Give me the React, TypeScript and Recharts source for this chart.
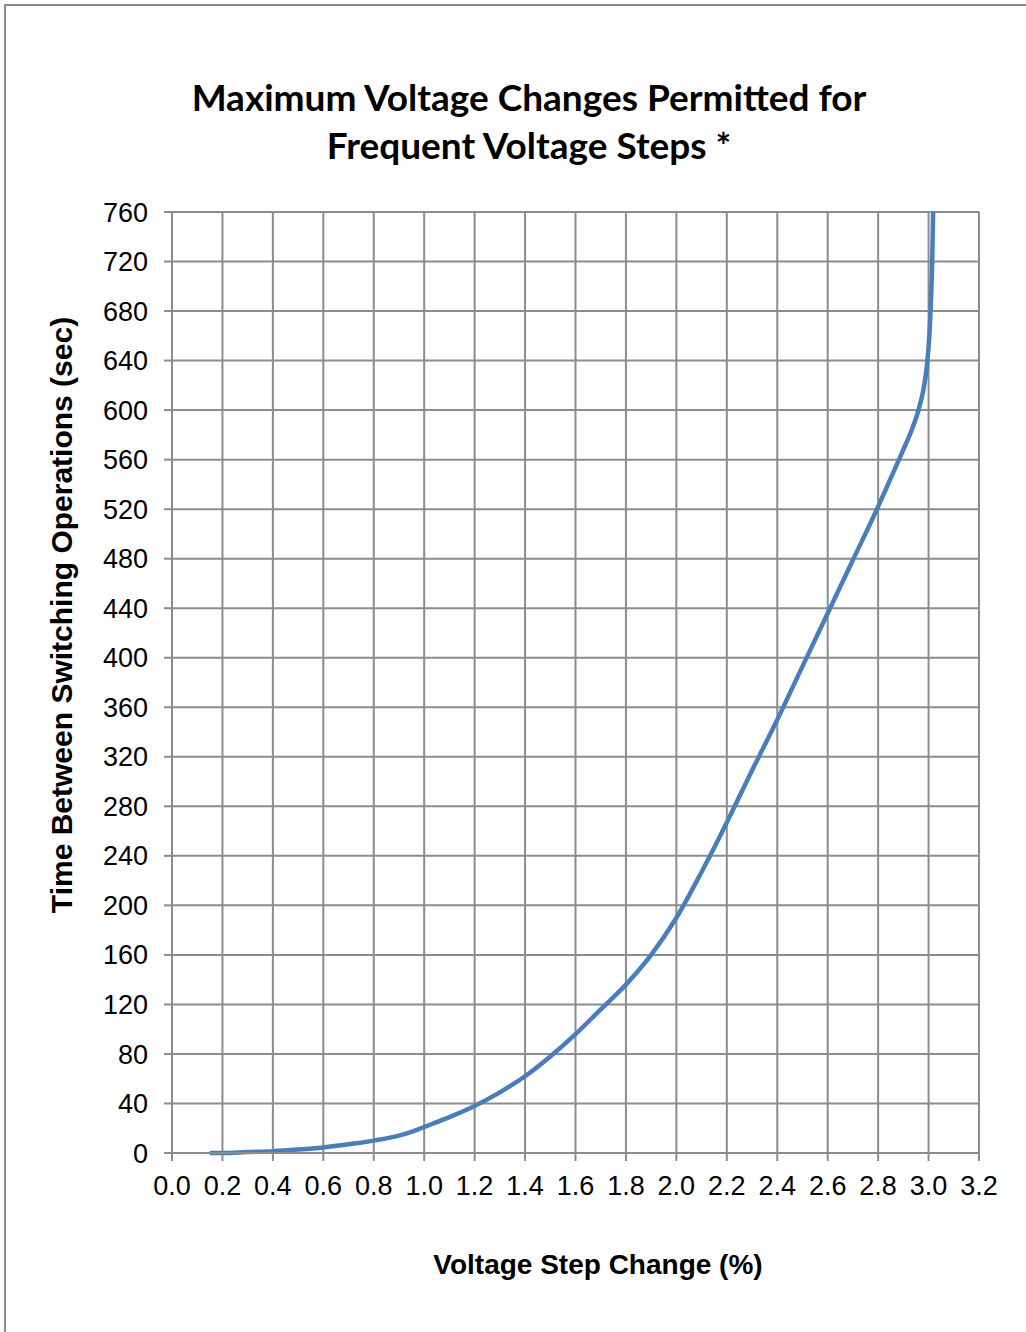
import React from 'react';
import { LineChart, Line, XAxis, YAxis, CartesianGrid } from 'recharts';

// voltage step change (%) and time between switching operations (sec)
const stepPct = [0.15, 0.2, 0.3, 0.4, 0.5, 0.6, 0.7, 0.8, 0.9, 0.95, 1.0, 1.1, 1.2, 1.3, 1.4, 1.5, 1.6, 1.7, 1.8, 1.9, 2.0, 2.1, 2.2, 2.3, 2.4, 2.5, 2.6, 2.7, 2.8, 2.85, 2.9, 2.935, 2.96, 2.98, 2.993, 3.003, 3.01, 3.015, 3.018];
const timeSec = [0, 0, 0.8, 1.5, 2.8, 4.5, 7, 10, 14, 17, 21, 29, 38, 49, 62, 78, 96, 116, 136, 160, 190, 227, 267, 309, 350, 393, 436, 479, 522, 545, 568, 585, 600, 617, 635, 660, 690, 725, 760];

const xTicks = [0, 0.2, 0.4, 0.6, 0.8, 1.0, 1.2, 1.4, 1.6, 1.8, 2.0, 2.2, 2.4, 2.6, 2.8, 3.0, 3.2];
const yTicks = [0, 40, 80, 120, 160, 200, 240, 280, 320, 360, 400, 440, 480, 520, 560, 600, 640, 680, 720, 760];

const data = stepPct.map((x, i) => ({ x, y: timeSec[i] }));

const gridColor = '#8c8c8c';
const tickFont = { fill: '#000', fontSize: 27, fontFamily: '"Liberation Sans", Arial, sans-serif' };

export default function App() {
  return (
    <div style={{ position: 'fixed', left: 0, top: 0, width: 1026, height: 1332, overflow: 'hidden', background: '#fff' }}>
      {/* outer frame, only left and top edges fall inside the picture */}
      <div style={{ position: 'absolute', left: 4, top: 4, width: 1100, height: 1400, border: '2px solid #8c8c8c' }} />

      <div style={{ position: 'absolute', left: 0, top: 73, width: 1058, textAlign: 'center', fontFamily: 'Lato, "Open Sans", sans-serif', fontWeight: 700, fontSize: 37, lineHeight: '48px', color: '#000' }}>
        Maximum Voltage Changes Permitted for<br />Frequent Voltage Steps *
      </div>

      <div style={{ position: 'absolute', left: 0, top: 0 }}>
        <LineChart width={1026} height={1332} data={data} margin={{ top: 212, right: 47, left: 72, bottom: 119 }}>
          <CartesianGrid stroke={gridColor} strokeWidth={2} />
          <XAxis
            dataKey="x"
            type="number"
            domain={[0, 3.2]}
            ticks={xTicks}
            interval={0}
            height={60}
            tickFormatter={(v: number) => v.toFixed(1)}
            stroke={gridColor}
            strokeWidth={2}
            tickSize={8}
            tickMargin={15}
            tick={tickFont}
          />
          <YAxis
            dataKey="y"
            type="number"
            domain={[0, 760]}
            ticks={yTicks}
            interval={0}
            width={100}
            stroke={gridColor}
            strokeWidth={2}
            tickSize={8}
            tickMargin={16}
            tick={tickFont}
          />
          <Line
            type="monotoneX"
            dataKey="y"
            stroke="#4a7ebb"
            strokeWidth={4.5}
            dot={false}
            isAnimationActive={false}
          />
        </LineChart>
      </div>

      <div style={{ position: 'absolute', left: 62, top: 615, transform: 'translate(-50%, -50%) rotate(-90deg)', whiteSpace: 'nowrap', fontFamily: '"Liberation Sans", Arial, sans-serif', fontWeight: 700, fontSize: 30, color: '#000' }}>
        Time Between Switching Operations (sec)
      </div>

      <div style={{ position: 'absolute', left: 598, top: 1265, transform: 'translate(-50%, -50%)', whiteSpace: 'nowrap', fontFamily: '"Liberation Sans", Arial, sans-serif', fontWeight: 700, fontSize: 28, color: '#000' }}>
        Voltage Step Change (%)
      </div>
    </div>
  );
}
